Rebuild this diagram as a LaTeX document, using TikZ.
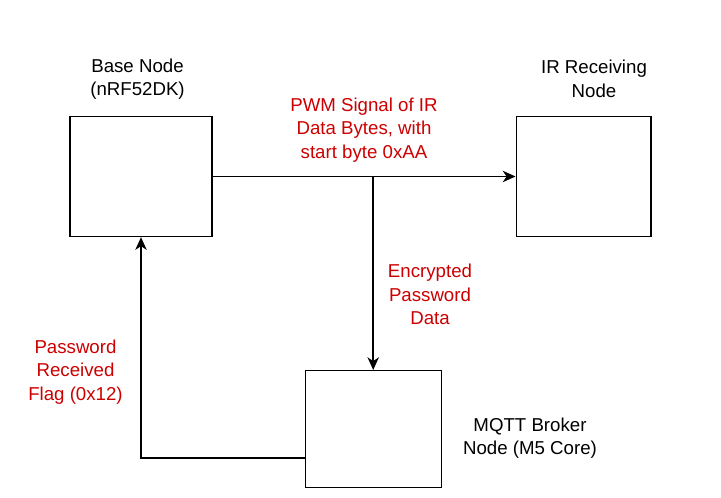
\documentclass[tikz,border=0pt]{standalone}
\usepackage{fontspec}
\setmainfont{Liberation Sans}
\usetikzlibrary{positioning, arrows.meta}
\definecolor{flowred}{HTML}{CC0000}
\tikzset{>={Stealth[length=9.5pt, width=8.5pt, inset=2.8pt]},
  box/.style={draw, line width=1pt, inner sep=0pt},
  lbl/.style={align=center, font=\fontsize{14}{17.5}\selectfont},
  msg/.style={lbl, text=flowred},
  flow/.style={->, line width=1.2pt}}

\begin{document}
\begin{tikzpicture}[x=0.75pt, y=-0.75pt]
    \useasboundingbox (0,0) rectangle (721,498);
    % the three nodes
    \node[box, minimum width=106.5pt, minimum height=90pt] (base) at (141,176.5) {};
    \node[box, minimum width=101pt, minimum height=90pt] (ir) at (583.5,176.5) {};
    \node[box, minimum width=102pt, minimum height=87.5pt] (mqtt) at (373.2,429) {};
    \node[lbl] (baselbl) at (137.5,79.5) {Base Node\\(nRF52DK)};
    \node[lbl] (irlbl) at (594,79) {IR Receiving\\Node};
    \node[lbl] (mqttlbl) at (530,438) {MQTT Broker\\Node (M5 Core)};
    % signals
    \coordinate (split) at (mqtt.north |- base.east);
    \coordinate (ret) at (305,458.3);
    \draw[flow] (base.east) -- (ir.west);
    \draw[flow] (split) -- (mqtt.north);
    \draw[flow] (ret) -- (ret -| base.south) -- (base.south);
    \node[msg] (pwm) at (364,130) {PWM Signal of IR\\Data Bytes, with\\start byte 0xAA};
    \node[msg] (enc) at (430,294.5) {Encrypted\\Password\\Data};
    \node[msg] (flag) at (75.5,372) {Password\\Received\\Flag (0x12)};
\end{tikzpicture}
\end{document}
